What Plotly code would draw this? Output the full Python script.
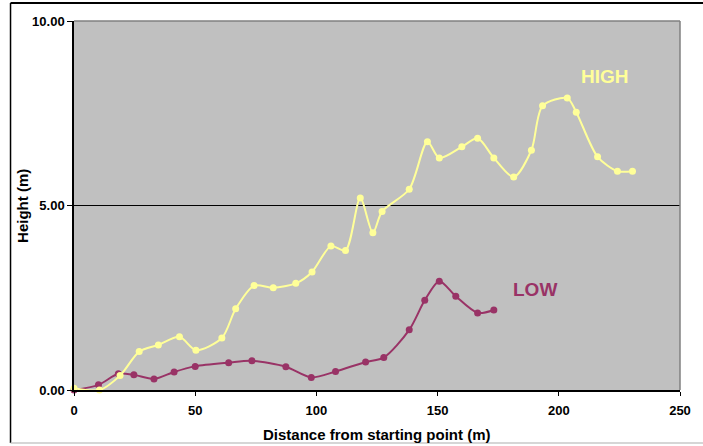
import plotly.graph_objects as go

# Survey profile: distance along the transect vs. height
high_distance = [0, 10.5, 19, 26.9, 34.8, 43.5, 50.3, 61, 66.7, 74.3, 82.2, 91.5,
                 98.2, 106, 112, 118.1, 123.3, 127.1, 138.3, 145.8, 150.7, 160,
                 166.5, 173.2, 181.4, 188.7, 193.3, 203.5, 207.2, 216, 224.2, 230.4]
high_height = [0.05, 0.0, 0.39, 1.04, 1.22, 1.44, 1.08, 1.41, 2.2, 2.83, 2.77, 2.89,
               3.2, 3.9, 3.78, 5.2, 4.26, 4.84, 5.44, 6.73, 6.29, 6.59,
               6.82, 6.29, 5.77, 6.5, 7.7, 7.91, 7.53, 6.32, 5.93, 5.93]

low_distance = [0, 10.1, 18.3, 24.7, 33, 41.3, 50, 63.8, 73.4, 87.4, 97.9, 107.9,
                120.3, 127.8, 138.3, 144.7, 150.7, 157.5, 166.5, 173.2]
low_height = [0.0, 0.14, 0.44, 0.41, 0.30, 0.49, 0.64, 0.74, 0.79, 0.63, 0.34, 0.50,
              0.76, 0.88, 1.63, 2.43, 2.95, 2.54, 2.09, 2.17]

x_ticks = [0, 50, 100, 150, 200, 250]
y_ticks = [0, 5, 10]

HIGH_COLOR = "#FFFF99"
LOW_COLOR = "#993366"
FONT = "Liberation Sans, Arial, sans-serif"

W, H = 703, 446
ML, MR, MT, MB = 74, 18, 21, 56
PW, PH = W - ML - MR, H - MT - MB


def px_x(px):
    return (px - ML) / PW


def px_y(py):
    return (H - MB - py) / PH


fig = go.Figure()

fig.add_trace(go.Scatter(
    x=low_distance, y=low_height, mode="lines+markers",
    line=dict(color=LOW_COLOR, width=2, shape="spline", smoothing=0.8),
    marker=dict(color=LOW_COLOR, size=7),
    cliponaxis=False, showlegend=False,
))
fig.add_trace(go.Scatter(
    x=high_distance, y=high_height, mode="lines+markers",
    line=dict(color=HIGH_COLOR, width=2, shape="spline", smoothing=0.8),
    marker=dict(color=HIGH_COLOR, size=7),
    cliponaxis=False, showlegend=False,
))

shapes = [
    # gridline at 5 m
    dict(type="line", xref="paper", yref="y", x0=0, x1=1, y0=5, y1=5,
         line=dict(color="black", width=1), layer="below"),
    # plot-area border (top and right)
    dict(type="line", xref="paper", yref="paper", x0=0, x1=1, y0=1, y1=1,
         line=dict(color="#808080", width=1.5)),
    dict(type="line", xref="paper", yref="paper", x0=1, x1=1, y0=0, y1=1,
         line=dict(color="#808080", width=1.5)),
    # chart frame
    dict(type="line", xref="paper", yref="paper", x0=px_x(10), x1=px_x(710),
         y0=px_y(3), y1=px_y(3), line=dict(color="black", width=2)),
    dict(type="line", xref="paper", yref="paper", x0=px_x(10), x1=px_x(10),
         y0=px_y(3), y1=px_y(443), line=dict(color="black", width=1.5)),
    dict(type="line", xref="paper", yref="paper", x0=px_x(10), x1=px_x(710),
         y0=px_y(443), y1=px_y(443), line=dict(color="#C8C8C8", width=1.5)),
]

centered = dict(showarrow=False, xanchor="center", yanchor="middle")
annotations = [
    dict(x=219, y=8.49, xref="x", yref="y", text="HIGH",
         font=dict(family=FONT, size=19, color=HIGH_COLOR, weight="bold"), **centered),
    dict(x=190, y=2.72, xref="x", yref="y", text="LOW",
         font=dict(family=FONT, size=19, color=LOW_COLOR, weight="bold"), **centered),
    dict(x=px_x(380), y=px_y(434), xref="paper", yref="paper",
         text="Distance from starting point (m)",
         font=dict(family=FONT, size=15, color="black", weight="bold"), **centered),
    dict(x=px_x(22), y=0.5, xref="paper", yref="paper", text="Height (m)",
         textangle=-90,
         font=dict(family=FONT, size=15, color="black", weight="bold"), **centered),
]

fig.update_layout(
    width=W, height=H,
    margin=dict(l=ML, r=MR, t=MT, b=MB),
    paper_bgcolor="white", plot_bgcolor="#C0C0C0",
    shapes=shapes, annotations=annotations,
    font=dict(family=FONT, color="black"),
)

fig.update_xaxes(
    range=[0, 250], tickvals=x_ticks, showgrid=False, zeroline=False,
    showline=True, linecolor="black", linewidth=1.5,
    ticks="outside", ticklen=4, tickcolor="black", ticklabelstandoff=4,
    tickfont=dict(family=FONT, size=13, weight="bold"),
)
fig.update_yaxes(
    range=[0, 10], tickvals=y_ticks, tickformat=".2f", showgrid=False, zeroline=False,
    showline=True, linecolor="black", linewidth=1.5,
    ticks="outside", ticklen=5, tickcolor="black",
    tickfont=dict(family=FONT, size=13, weight="bold"),
)

fig.write_html("out.html")
